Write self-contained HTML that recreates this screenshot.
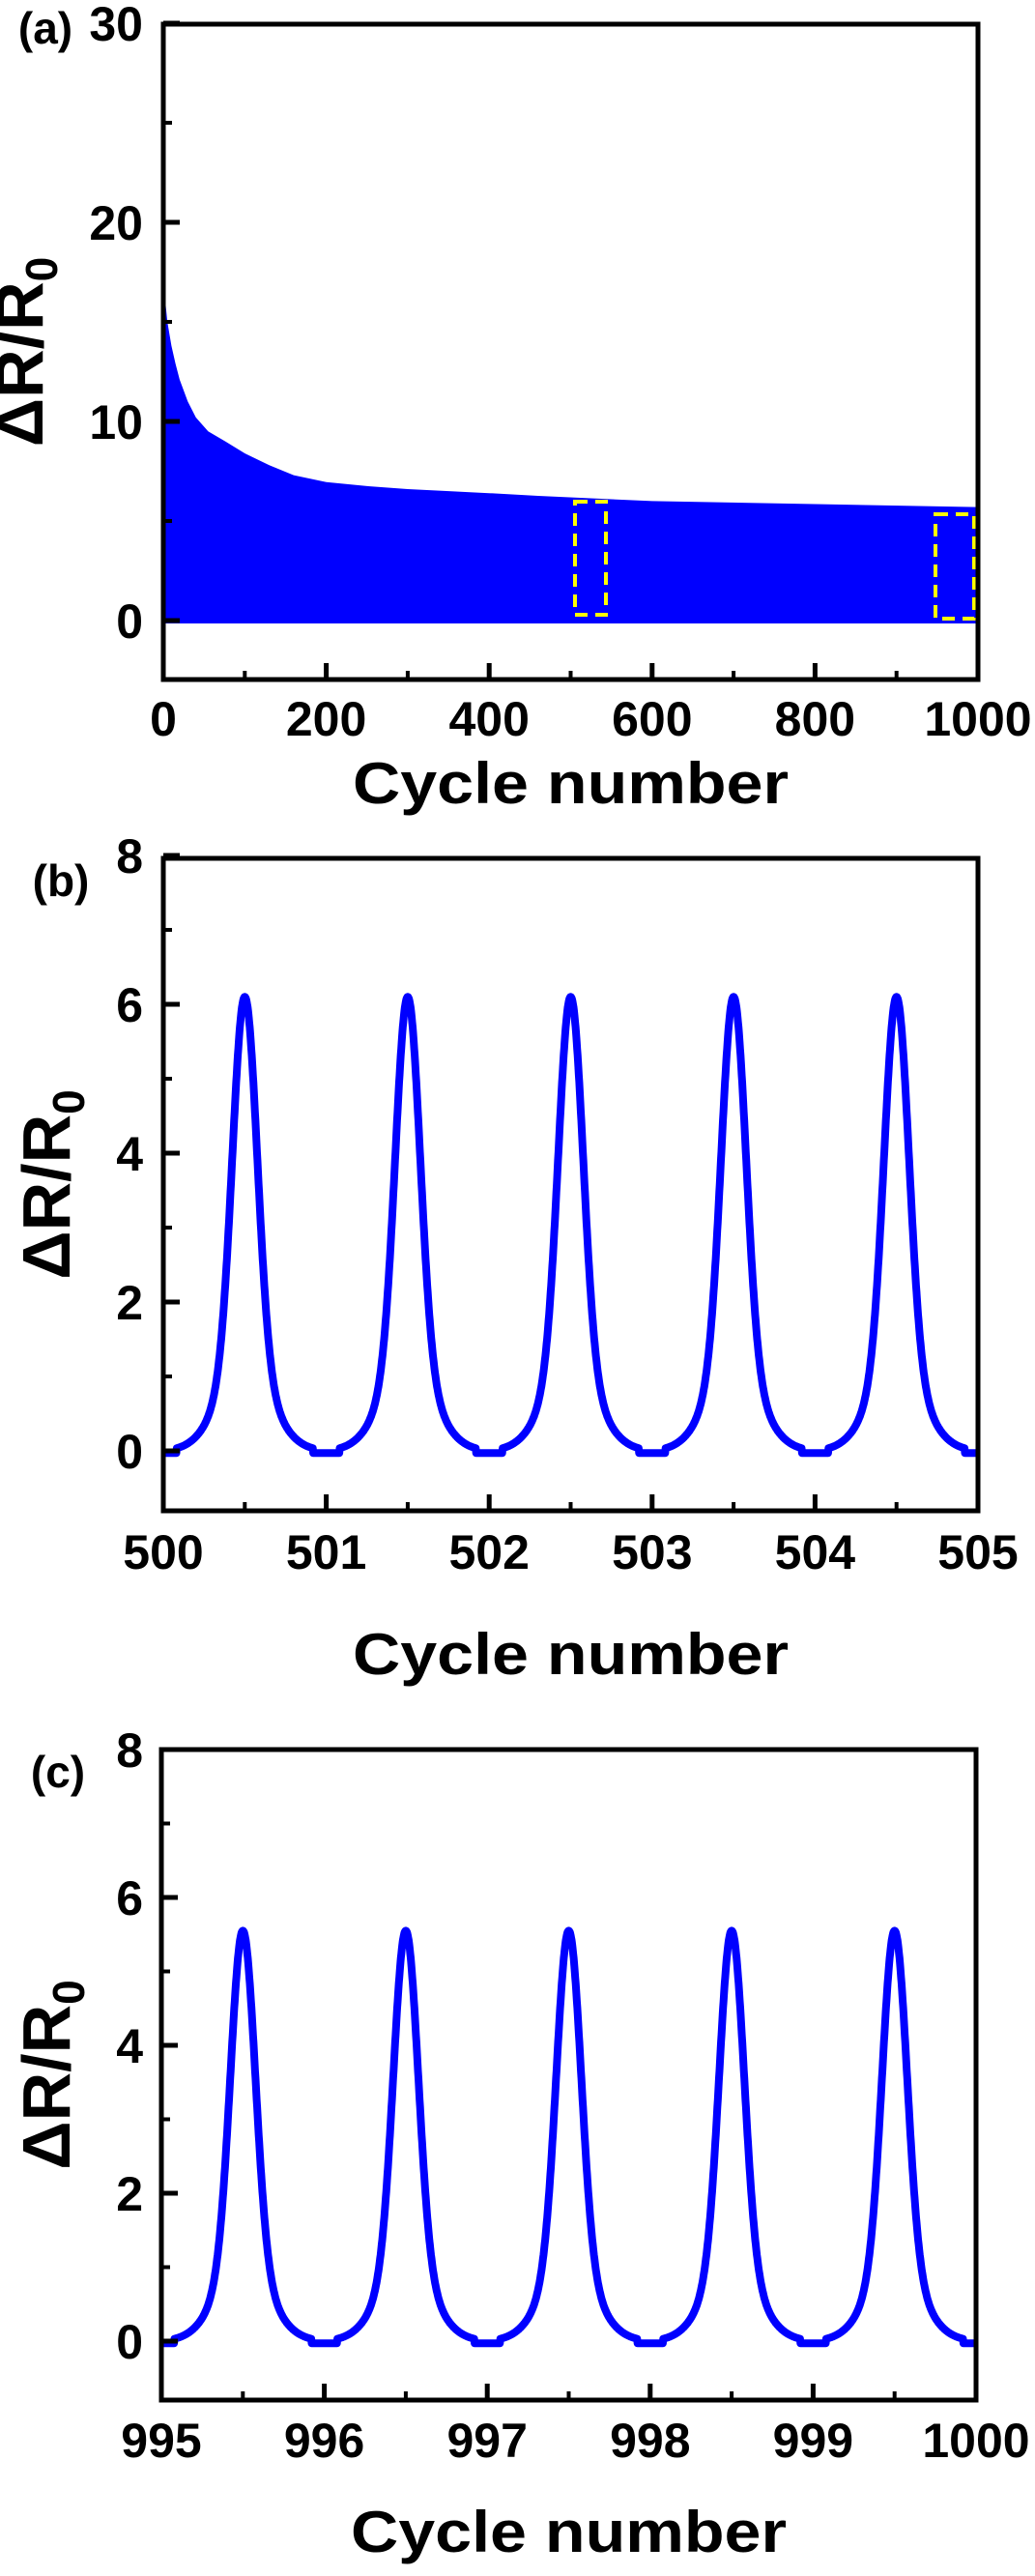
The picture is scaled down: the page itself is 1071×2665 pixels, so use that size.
<!DOCTYPE html>
<html><head><meta charset="utf-8"><style>
html,body{margin:0;padding:0;background:#fff;}
svg{display:block;font-family:"Liberation Sans",Arial,sans-serif;font-weight:bold;}
</style></head><body>
<svg id="s" width="1071" height="2665" viewBox="0 0 1071 2665" xmlns="http://www.w3.org/2000/svg">
<rect width="1071" height="2665" fill="#fff"/>
<g id="a"></g><g id="b"></g><g id="c"></g>
</svg>
<script>
const NS="http://www.w3.org/2000/svg";
function el(p,t,a,txt){const e=document.createElementNS(NS,t);for(const k in a)e.setAttribute(k,a[k]);if(txt!==undefined)e.textContent=txt;p.appendChild(e);return e;}
function panel(g,o){
 const X=v=>o.x0+(v-o.xmin)/(o.xmax-o.xmin)*(o.x1-o.x0);
 const Y=v=>o.yz-v*o.py;
 if(o.draw)o.draw(g,X,Y);
 el(g,'rect',{x:o.x0,y:o.y0,width:o.x1-o.x0,height:o.y1-o.y0,fill:'none',stroke:'#000','stroke-width':5});
 o.yt.forEach(v=>{const y=Y(v);el(g,'line',{x1:o.x0,x2:o.x0+17,y1:y,y2:y,stroke:'#000','stroke-width':5});
  el(g,'text',{x:148,y:y+18,'text-anchor':'end','font-size':50},String(v));});
 o.ym.forEach(v=>{const y=Y(v);el(g,'line',{x1:o.x0,x2:o.x0+9,y1:y,y2:y,stroke:'#000','stroke-width':4});});
 o.xt.forEach(v=>{const x=X(v);el(g,'line',{x1:x,x2:x,y1:o.y1,y2:o.y1-17,stroke:'#000','stroke-width':5});
  el(g,'text',{x:x,y:o.xlb,'text-anchor':'middle','font-size':50},String(v));});
 o.xm.forEach(v=>{const x=X(v);el(g,'line',{x1:x,x2:x,y1:o.y1,y2:o.y1-9,stroke:'#000','stroke-width':4});});
 el(g,'text',{x:(o.x0+o.x1)/2,y:o.clb,'text-anchor':'middle','font-size':60,textLength:451,lengthAdjust:'spacingAndGlyphs'},'Cycle number');
 const yc=(o.y0+o.y1)/2;
 const t=el(g,'text',{transform:`translate(${o.ylx},${yc}) rotate(-90)`,'text-anchor':'middle','font-size':70});
 el(t,'tspan',{},'ΔR/R');el(t,'tspan',{'font-size':46,dy:15},'0');
 el(g,'text',{x:o.lx,y:o.ly,'text-anchor':'middle','font-size':46},o.lab);
}
panel(document.getElementById('a'),{x0:169,x1:1012,y0:25,y1:703,xmin:0,xmax:1000,yz:642,py:20.6,
 yt:[0,10,20,30],ym:[5,15,25],xt:[0,200,400,600,800,1000],xm:[100,300,500,700,900],xlb:761,clb:831,ylx:44,lx:47,ly:45,lab:'(a)',
 draw:(g,X,Y)=>{
  const pts=[[0,17],[2,16.2],[5,15],[10,13.8],[15,12.9],[20,12.1],[30,11],[40,10.2],[55,9.5],[76,9.0],[100,8.4],[130,7.8],[160,7.3],[200,6.95],[250,6.75],[300,6.6],[400,6.4],[460,6.26],[600,6.0],[800,5.85],[1000,5.7]];
  let d='M'+X(0)+','+645;pts.forEach(p=>d+=' L'+X(p[0]).toFixed(1)+','+Y(p[1]).toFixed(1));d+=' L'+X(1000)+',645Z';
  el(g,'path',{d:d,fill:'#0000ff'});
  el(g,'rect',{x:595,y:519,width:32,height:117,fill:'none',stroke:'#ffff00','stroke-width':4,'stroke-dasharray':'13 8'});
  el(g,'rect',{x:968,y:532,width:40,height:108,fill:'none',stroke:'#ffff00','stroke-width':4,'stroke-dasharray':'13 8'});
 }});
function peaks(A,start){return (g,X,Y)=>{
 let d='';for(let i=0;i<=2000;i++){const v=start+i*5/2000;const f=v-start;const t=f-Math.floor(f)-0.5;
  let y=A*(0.82*Math.exp(-t*t/(2*0.075*0.075))+0.18*Math.exp(-t*t/(2*0.16*0.16)));
  if(Math.abs(t)>0.42)y=-0.03;
  d+=(i?' L':'M')+X(v).toFixed(1)+','+Y(y).toFixed(1);}
 el(g,'path',{d:d,fill:'none',stroke:'#0000ff','stroke-width':8,'stroke-linejoin':'round'});};}
panel(document.getElementById('b'),{x0:169,x1:1012,y0:888,y1:1563,xmin:500,xmax:505,yz:1501,py:77,
 yt:[0,2,4,6,8],ym:[1,3,5,7],xt:[500,501,502,503,504,505],xm:[500.5,501.5,502.5,503.5,504.5],xlb:1623,clb:1732,ylx:72,lx:63,ly:927,lab:'(b)',
 draw:peaks(6.1,500)});
panel(document.getElementById('c'),{x0:167,x1:1010,y0:1810,y1:2483,xmin:995,xmax:1000,yz:2422,py:76.5,
 yt:[0,2,4,6,8],ym:[1,3,5,7],xt:[995,996,997,998,999,1000],xm:[995.5,996.5,997.5,998.5,999.5],xlb:2542,clb:2640,ylx:72,lx:60,ly:1849,lab:'(c)',
 draw:peaks(5.55,995)});
</script>
</body></html>
